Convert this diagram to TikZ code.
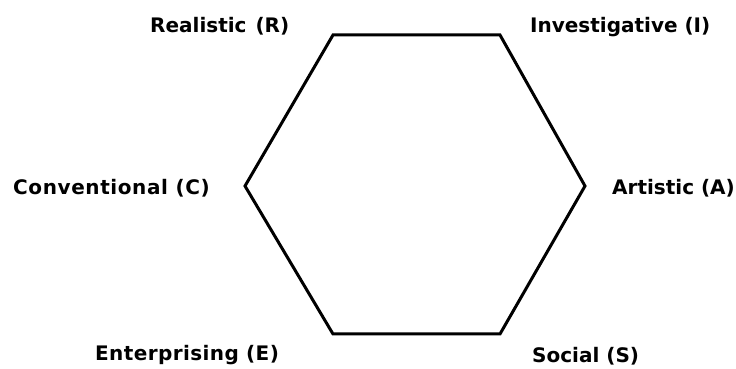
\documentclass[tikz,border=0pt]{standalone}
\usepackage{fontspec}
\setmainfont{DejaVu Sans}
\begin{document}
\begin{tikzpicture}[x=1pt,y=1pt,
  lbl/.style={font=\fontsize{20}{24}\selectfont\bfseries, inner sep=0pt, anchor=base west},
  hexline/.style={line width=3pt, line join=miter}]
\useasboundingbox (0,0) rectangle (736,369);
\coordinate (tl) at (333,334);
\coordinate (tr) at (500,334);
\coordinate (r) at (585,183);
\coordinate (br) at (500,35);
\coordinate (bl) at (333,35);
\coordinate (l) at (245,183);
\draw[hexline] (tl) -- (tr) -- (r) -- (br) -- (bl) -- (l) -- cycle;
\node[lbl] (R) at (150,336) {Realistic\hspace{0.45em}(R)};
\node[lbl] (I) at (530,336) {Investigative (I)};
\node[lbl] (C) at (13,174) {\addfontfeature{LetterSpace=3}Conventional (C)};
\node[lbl] (A) at (612,174) {Artistic (A)};
\node[lbl] (E) at (95,8) {\addfontfeature{LetterSpace=2}Enterprising (E)};
\node[lbl] (S) at (532,6) {Social (S)};
\end{tikzpicture}
\end{document}
